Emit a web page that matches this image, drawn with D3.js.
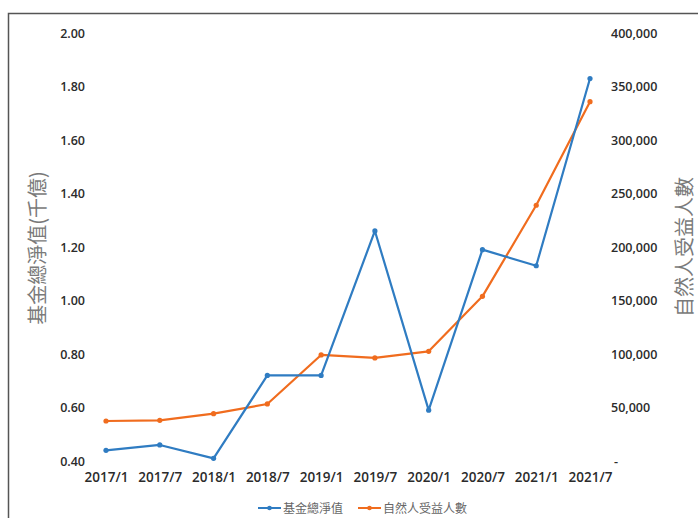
<!DOCTYPE html>
<html>
<head>
<meta charset="utf-8">
<script src="https://cdn.jsdelivr.net/npm/d3@7/dist/d3.min.js"></script>
<style>
  html, body { margin: 0; padding: 0; background: #fff; }
  svg { display: block; }
</style>
</head>
<body>
<svg id="chart" width="698" height="518"></svg>
<script>
// Half-year periods
const periods = ["2017/1", "2017/7", "2018/1", "2018/7", "2019/1", "2019/7", "2020/1", "2020/7", "2021/1", "2021/7"];
// Fund total net asset value (hundred billions), left axis
const fundNav = [0.44, 0.46, 0.41, 0.72, 0.72, 1.26, 0.59, 1.19, 1.13, 1.83];
// Number of individual beneficiaries, right axis
const beneficiaries = [37400, 38000, 44200, 53300, 99100, 96300, 102500, 153900, 239000, 335800];
// Axis ticks
const leftTicks = [0.40, 0.60, 0.80, 1.00, 1.20, 1.40, 1.60, 1.80, 2.00];
const rightTicks = [0, 50000, 100000, 150000, 200000, 250000, 300000, 350000, 400000];
const seriesNames = ["基金總淨值", "自然人受益人數"];

const blue = "#2f7cc2";
const orange = "#f06c1e";
const font = "'Open Sans', 'Noto Sans CJK TC', sans-serif";
const cjk = "'Noto Sans CJK TC', sans-serif";

const svg = d3.select("#chart");

// outer frame (runs past the right and bottom edges)
svg.append("rect")
  .attr("x", 8.5).attr("y", 13.5)
  .attr("width", 720).attr("height", 540)
  .attr("fill", "none").attr("stroke", "#555").attr("stroke-width", 1.5);

const plotTop = 33, plotBottom = 461;
const x = d3.scalePoint().domain(periods).range([106, 590]);
const yL = d3.scaleLinear().domain([0.40, 2.00]).range([plotBottom, plotTop]);
const yR = d3.scaleLinear().domain([0, 400000]).range([plotBottom, plotTop]);

// left axis
const leftAxis = d3.axisLeft(yL).tickValues(leftTicks).tickFormat(d3.format(".2f")).tickSize(0).tickPadding(0);
const gL = svg.append("g").attr("transform", "translate(85,0)").call(leftAxis);
// right axis
const fmtR = d => d === 0 ? "-" : d3.format(",")(d);
const rightAxis = d3.axisRight(yR).tickValues(rightTicks).tickFormat(fmtR).tickSize(0).tickPadding(0);
const gR = svg.append("g").attr("transform", "translate(611,0)").call(rightAxis);
// bottom axis
const bottomAxis = d3.axisBottom(x).tickSize(0).tickPadding(0);
const gB = svg.append("g").attr("transform", "translate(0,472)").call(bottomAxis);

[gL, gR, gB].forEach(g => {
  g.select(".domain").remove();
  g.selectAll("text")
    .attr("fill", "#2b2b2b")
    .style("font-family", font)
    .style("font-weight", "600")
    .style("font-size", "12.5px");
});
gB.selectAll("text").style("font-size", "13.5px");
gR.selectAll("text").filter(d => d === 0).attr("dx", 3);

// axis titles
svg.append("text")
  .attr("transform", "translate(45,248) rotate(-90)")
  .attr("text-anchor", "middle")
  .attr("fill", "#7a7a7a")
  .style("font-family", cjk)
  .style("font-size", "20px")
  .text("基金總淨值(千億)");
svg.append("text")
  .attr("transform", "translate(692,247) rotate(-90)")
  .attr("text-anchor", "middle")
  .attr("fill", "#7a7a7a")
  .style("font-family", cjk)
  .style("font-size", "20px")
  .text("自然人受益人數");

// series lines
const lineL = d3.line().x((d, i) => x(periods[i])).y(d => yL(d));
const lineR = d3.line().x((d, i) => x(periods[i])).y(d => yR(d));

svg.append("path").datum(beneficiaries)
  .attr("d", lineR).attr("fill", "none")
  .attr("stroke", orange).attr("stroke-width", 2.2).attr("stroke-linejoin", "round");
svg.append("g").selectAll("circle").data(beneficiaries).join("circle")
  .attr("cx", (d, i) => x(periods[i])).attr("cy", d => yR(d))
  .attr("r", 2.6).attr("fill", orange);

svg.append("path").datum(fundNav)
  .attr("d", lineL).attr("fill", "none")
  .attr("stroke", blue).attr("stroke-width", 2.2).attr("stroke-linejoin", "round");
svg.append("g").selectAll("circle").data(fundNav).join("circle")
  .attr("cx", (d, i) => x(periods[i])).attr("cy", d => yL(d))
  .attr("r", 2.6).attr("fill", blue);

// legend
const legend = svg.append("g").attr("transform", "translate(258,508)");
const legendItems = [
  { name: seriesNames[0], color: blue, dx: 0 },
  { name: seriesNames[1], color: orange, dx: 100 }
];
legendItems.forEach(it => {
  const g = legend.append("g").attr("transform", `translate(${it.dx},0)`);
  g.append("line").attr("x1", 0).attr("x2", 23).attr("y1", 0).attr("y2", 0)
    .attr("stroke", it.color).attr("stroke-width", 2);
  g.append("circle").attr("cx", 11.5).attr("cy", 0).attr("r", 2.3).attr("fill", it.color);
  g.append("text").attr("x", 25).attr("y", 4.5)
    .attr("fill", "#666")
    .style("font-family", cjk)
    .style("font-size", "12px")
    .text(it.name);
});
</script>
</body>
</html>
